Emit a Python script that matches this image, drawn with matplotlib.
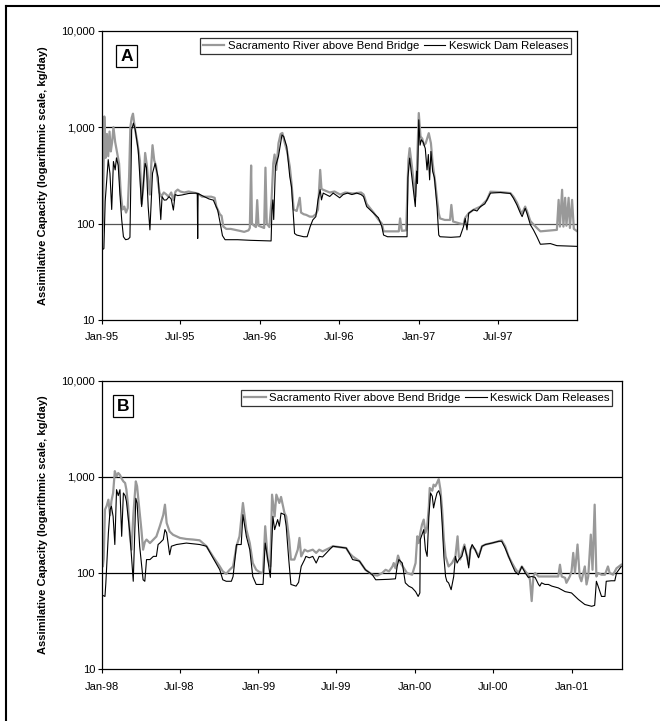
import matplotlib
matplotlib.use('Agg')
import matplotlib.pyplot as plt
import matplotlib.dates as mdates
from matplotlib.lines import Line2D
import pandas as pd

plt.rcParams['font.family'] = ['Liberation Sans', 'DejaVu Sans']

# ---------------- Panel A data (1995-1997) ----------------
a_sac_dates = ['1995-01-01','1995-01-04','1995-01-07','1995-01-10','1995-01-13','1995-01-16','1995-01-19','1995-01-22',
    '1995-01-25','1995-01-28','1995-02-01','1995-02-05','1995-02-10','1995-02-14','1995-02-18','1995-02-22','1995-02-26',
    '1995-03-02','1995-03-05','1995-03-08','1995-03-11','1995-03-14','1995-03-18','1995-03-24','1995-03-30','1995-04-03',
    '1995-04-07','1995-04-11','1995-04-15','1995-04-19','1995-04-22','1995-04-25','1995-04-28','1995-05-02','1995-05-06',
    '1995-05-10','1995-05-14','1995-05-18','1995-05-24','1995-05-30','1995-06-04','1995-06-10','1995-06-15','1995-06-20',
    '1995-06-25','1995-07-01','1995-07-10','1995-07-20','1995-07-30','1995-08-10','1995-08-20','1995-08-30','1995-09-10',
    '1995-09-18','1995-09-22','1995-09-30','1995-10-04','1995-10-08','1995-10-15','1995-10-25','1995-11-05','1995-11-15',
    '1995-11-25','1995-12-05','1995-12-08','1995-12-11','1995-12-13','1995-12-18','1995-12-22','1995-12-25','1995-12-28',
    '1996-01-05','1996-01-10','1996-01-13','1996-01-16','1996-01-22','1996-01-27','1996-01-31','1996-02-03','1996-02-07',
    '1996-02-12','1996-02-17','1996-02-21','1996-02-26','1996-03-03','1996-03-09','1996-03-13','1996-03-18','1996-03-25',
    '1996-04-01','1996-04-04','1996-04-10','1996-04-16','1996-04-24','1996-05-01','1996-05-08','1996-05-13','1996-05-18',
    '1996-05-21','1996-05-24','1996-06-09','1996-06-20','1996-07-03','1996-07-15','1996-08-01','1996-08-20','1996-08-26',
    '1996-09-02','1996-09-18','1996-09-29','1996-10-07','1996-10-11','1996-11-15','1996-11-18','1996-11-22','1996-12-02',
    '1996-12-04','1996-12-07','1996-12-10','1996-12-15','1996-12-23','1996-12-27','1996-12-31','1997-01-04','1997-01-08',
    '1997-01-12','1997-01-16','1997-01-23','1997-01-28','1997-02-01','1997-02-07','1997-02-11','1997-02-15','1997-02-18',
    '1997-03-01','1997-03-13','1997-03-16','1997-03-20','1997-04-05','1997-04-13','1997-04-17','1997-04-25','1997-05-06',
    '1997-05-22','1997-06-06','1997-06-14','1997-07-07','1997-07-30','1997-08-06','1997-08-14','1997-08-22','1997-08-26',
    '1997-09-02','1997-09-06','1997-09-14','1997-09-21','1997-09-29','1997-10-07','1997-11-14','1997-11-18','1997-11-21',
    '1997-11-26','1997-11-29','1997-12-03','1997-12-06','1997-12-11','1997-12-14','1997-12-19','1997-12-23','1997-12-31']
a_sac_vals = [73,110,1290,480,850,500,900,560,
    700,1000,700,560,420,200,140,150,130,
    145,300,1000,1250,1380,1000,700,450,160,
    250,540,400,250,200,400,650,450,400,
    280,210,190,210,200,190,210,175,215,
    225,215,210,215,210,205,190,190,190,
    185,150,125,120,93,88,88,86,84,
    82,85,90,400,100,95,92,175,95,
    92,90,380,100,92,175,420,520,360,
    680,850,870,700,560,390,262,140,135,
    185,130,125,123,118,118,125,140,360,
    230,225,210,215,200,210,205,210,200,
    160,130,110,100,83,83,113,84,85,
    163,450,605,400,190,400,1400,800,760,
    650,680,866,680,420,262,180,128,113,
    109,109,156,105,100,98,115,128,139,
    150,176,214,212,207,190,165,135,128,
    150,135,106,98,90,83,86,176,93,
    224,93,185,95,185,90,176,88,83]

a_kes_dates = ['1995-01-01','1995-01-06','1995-01-09','1995-01-13','1995-01-16','1995-01-20','1995-01-24','1995-01-28',
    '1995-02-01','1995-02-04','1995-02-08','1995-02-12','1995-02-16','1995-02-20','1995-02-25','1995-03-03','1995-03-07',
    '1995-03-11','1995-03-15','1995-03-19','1995-03-26','1995-04-03','1995-04-08','1995-04-11','1995-04-14','1995-04-18',
    '1995-04-22','1995-04-28','1995-05-04','1995-05-11','1995-05-17','1995-05-20','1995-05-25','1995-05-30','1995-06-05',
    '1995-06-10','1995-06-15','1995-06-19','1995-06-25','1995-07-05','1995-07-20','1995-08-05','1995-08-09','1995-08-10',
    '1995-08-11','1995-08-20','1995-09-05','1995-09-15','1995-09-18','1995-09-25','1995-10-01','1995-10-06','1995-10-12',
    '1995-11-10','1995-12-10','1996-01-26','1996-01-28','1996-01-30','1996-02-01','1996-02-05','1996-02-12','1996-02-20',
    '1996-02-24','1996-03-02','1996-03-09','1996-03-13','1996-03-20','1996-03-25','1996-04-10','1996-04-18','1996-04-25',
    '1996-05-01','1996-05-08','1996-05-13','1996-05-18','1996-05-21','1996-05-25','1996-06-09','1996-06-17','1996-07-02',
    '1996-07-10','1996-07-20','1996-07-30','1996-08-10','1996-08-20','1996-08-26','1996-09-02','1996-09-18','1996-09-29',
    '1996-10-07','1996-10-11','1996-10-20','1996-11-20','1996-12-04','1996-12-06','1996-12-10','1996-12-15','1996-12-20',
    '1996-12-23','1996-12-26','1996-12-28','1996-12-31','1997-01-03','1997-01-06','1997-01-10','1997-01-15','1997-01-19',
    '1997-01-22','1997-01-25','1997-01-28','1997-02-01','1997-02-05','1997-02-11','1997-02-15','1997-02-18','1997-03-15',
    '1997-04-05','1997-04-13','1997-04-17','1997-04-21','1997-04-25','1997-05-06','1997-05-14','1997-05-22','1997-06-01',
    '1997-06-06','1997-06-14','1997-07-07','1997-07-30','1997-08-06','1997-08-14','1997-08-22','1997-08-26','1997-09-02',
    '1997-09-06','1997-09-14','1997-09-21','1997-09-29','1997-10-07','1997-10-30','1997-11-14','1997-12-31']
a_kes_vals = [53,55,170,300,460,330,140,440,
    360,480,400,200,110,73,68,69,72,
    940,1100,950,580,150,300,420,380,150,
    86,333,420,300,110,190,175,176,190,
    180,138,200,195,198,205,207,205,70,
    205,195,180,175,163,138,100,75,68,
    68,67,66,138,176,110,390,500,830,
    800,630,307,240,79,76,73,73,93,
    109,118,176,225,176,207,191,207,185,
    200,207,200,207,200,190,150,128,115,
    93,76,73,73,73,300,477,307,200,
    150,350,260,1190,650,740,700,600,360,
    520,284,560,347,300,150,76,73,72,
    73,93,113,86,128,139,135,150,160,
    176,207,210,205,183,156,128,118,144,
    128,97,86,73,61,62,59,58]

# ---------------- Panel B data (1998-2001) ----------------
b_sac_dates = ['1998-01-01','1998-01-03','1998-01-05','1998-01-08','1998-01-12','1998-01-16','1998-01-20','1998-01-23',
    '1998-01-27','1998-01-31','1998-02-04','1998-02-08','1998-02-12','1998-02-16','1998-02-20','1998-02-24','1998-02-27',
    '1998-03-03','1998-03-07','1998-03-11','1998-03-15','1998-03-21','1998-03-24','1998-03-27','1998-04-03','1998-04-07',
    '1998-04-11','1998-04-15','1998-04-23','1998-05-01','1998-05-08','1998-05-16','1998-05-24','1998-05-28','1998-06-01',
    '1998-06-08','1998-06-16','1998-07-02','1998-07-17','1998-08-02','1998-08-17','1998-09-02','1998-09-17','1998-10-03',
    '1998-10-10','1998-10-18','1998-10-26','1998-11-03','1998-11-11','1998-11-18','1998-11-26','1998-11-30','1998-12-04',
    '1998-12-12','1998-12-19','1998-12-27','1999-01-04','1999-01-12','1999-01-17','1999-01-23','1999-01-29','1999-02-02',
    '1999-02-08','1999-02-12','1999-02-19','1999-02-23','1999-03-03','1999-03-07','1999-03-14','1999-03-18','1999-03-26',
    '1999-04-03','1999-04-07','1999-04-11','1999-04-19','1999-04-26','1999-05-08','1999-05-16','1999-05-23','1999-05-31',
    '1999-06-16','1999-06-24','1999-07-25','1999-08-01','1999-08-09','1999-08-25','1999-09-08','1999-09-24','1999-10-06',
    '1999-10-17','1999-10-25','1999-11-02','1999-11-10','1999-11-13','1999-11-17','1999-11-23','1999-11-29','1999-12-07',
    '1999-12-14','1999-12-26','2000-01-03','2000-01-07','2000-01-10','2000-01-14','2000-01-18','2000-01-22','2000-01-26',
    '2000-01-30','2000-02-03','2000-02-05','2000-02-11','2000-02-14','2000-02-18','2000-02-22','2000-02-26','2000-03-01',
    '2000-03-05','2000-03-09','2000-03-13','2000-03-20','2000-03-28','2000-04-05','2000-04-10','2000-04-13','2000-04-16',
    '2000-04-20','2000-04-26','2000-05-02','2000-05-06','2000-05-10','2000-05-14','2000-05-21','2000-05-29','2000-06-06',
    '2000-06-14','2000-06-29','2000-07-15','2000-07-22','2000-07-30','2000-08-07','2000-08-15','2000-08-22','2000-08-30',
    '2000-09-07','2000-09-15','2000-09-22','2000-09-26','2000-09-30','2000-10-04','2000-10-08','2000-10-16','2000-10-31',
    '2000-11-16','2000-12-01','2000-12-05','2000-12-09','2000-12-17','2000-12-20','2000-12-28','2001-01-01','2001-01-05',
    '2001-01-09','2001-01-15','2001-01-20','2001-01-24','2001-02-01','2001-02-05','2001-02-09','2001-02-15','2001-02-19',
    '2001-02-24','2001-02-28','2001-03-04','2001-03-12','2001-03-20','2001-03-27','2001-03-31','2001-04-08','2001-04-16',
    '2001-04-27']
b_sac_vals = [170,117,140,457,500,580,400,560,
    681,1150,1016,1100,1050,960,900,866,738,
    500,250,175,389,900,800,580,283,175,
    210,223,205,223,240,307,402,515,332,
    270,250,232,226,223,219,190,149,117,
    104,98,108,117,190,241,536,389,283,
    205,127,108,102,100,307,138,117,655,
    389,655,536,620,421,389,223,138,138,
    175,232,149,175,168,175,162,175,168,
    182,190,182,162,149,133,108,96,94,
    100,108,104,117,127,112,152,127,112,
    100,96,127,241,205,262,319,360,262,
    300,495,768,720,832,800,866,953,740,
    457,223,149,117,127,149,241,149,138,
    162,198,149,122,175,190,175,149,190,
    198,205,214,219,190,149,127,112,100,
    117,104,96,85,51,92,100,92,92,
    92,92,122,92,89,79,92,104,162,
    100,198,92,82,117,76,92,251,108,
    515,92,100,96,96,117,100,96,112,
    122]

b_kes_dates = ['1998-01-01','1998-01-08','1998-01-10','1998-01-16','1998-01-20','1998-01-23','1998-01-27','1998-01-31',
    '1998-02-04','1998-02-08','1998-02-12','1998-02-16','1998-02-20','1998-02-24','1998-02-27','1998-03-07','1998-03-15',
    '1998-03-21','1998-03-24','1998-03-30','1998-04-07','1998-04-11','1998-04-15','1998-04-23','1998-05-01','1998-05-08',
    '1998-05-12','1998-05-16','1998-05-24','1998-05-28','1998-06-01','1998-06-08','1998-06-12','1998-06-24','1998-07-17',
    '1998-08-17','1998-09-02','1998-09-17','1998-10-03','1998-10-10','1998-10-18','1998-10-30','1998-11-03','1998-11-11',
    '1998-11-22','1998-11-26','1998-12-04','1998-12-12','1998-12-19','1998-12-27','1999-01-12','1999-01-17','1999-01-23',
    '1999-01-29','1999-02-04','1999-02-08','1999-02-15','1999-02-19','1999-02-23','1999-03-03','1999-03-07','1999-03-13',
    '1999-03-18','1999-03-30','1999-04-05','1999-04-11','1999-04-19','1999-04-22','1999-04-30','1999-05-08','1999-05-16',
    '1999-05-23','1999-05-31','1999-06-16','1999-06-24','1999-07-25','1999-08-01','1999-08-09','1999-08-25','1999-09-08',
    '1999-09-24','1999-10-02','1999-11-02','1999-11-17','1999-11-21','1999-11-25','1999-12-03','1999-12-10','1999-12-18',
    '1999-12-26','2000-01-03','2000-01-09','2000-01-13','2000-01-14','2000-01-22','2000-01-26','2000-01-30','2000-02-03',
    '2000-02-07','2000-02-11','2000-02-14','2000-02-18','2000-02-22','2000-02-26','2000-03-01','2000-03-05','2000-03-09',
    '2000-03-13','2000-03-16','2000-03-20','2000-03-26','2000-04-01','2000-04-05','2000-04-09','2000-04-13','2000-04-20',
    '2000-04-26','2000-05-02','2000-05-06','2000-05-10','2000-05-14','2000-05-21','2000-05-29','2000-06-06','2000-06-14',
    '2000-06-29','2000-07-15','2000-07-22','2000-07-30','2000-08-07','2000-08-15','2000-08-22','2000-08-30','2000-09-07',
    '2000-09-15','2000-09-22','2000-09-30','2000-10-08','2000-10-16','2000-10-19','2000-10-23','2000-10-31','2000-11-08',
    '2000-11-16','2000-12-01','2000-12-17','2001-01-01','2001-01-17','2001-02-01','2001-02-17','2001-02-24','2001-02-28',
    '2001-03-04','2001-03-12','2001-03-20','2001-03-23','2001-04-04','2001-04-12','2001-04-16','2001-04-27']
b_kes_vals = [59,57,78,262,457,495,389,198,
    738,640,738,241,681,640,560,262,82,
    600,536,190,85,82,138,138,149,149,
    198,205,223,283,262,155,190,198,205,
    198,190,144,108,85,82,82,92,198,
    198,405,241,175,92,76,76,205,138,
    90,389,283,360,307,421,405,307,138,
    76,73,80,117,138,149,144,149,127,
    149,147,175,190,182,162,138,133,108,
    96,85,86,87,117,138,127,79,73,
    70,64,57,62,223,283,175,149,389,
    681,630,476,580,681,720,630,332,149,
    92,82,79,67,92,149,127,138,149,
    190,149,113,175,198,175,144,190,198,
    205,214,214,182,149,122,104,96,117,
    100,90,92,90,76,73,79,76,76,
    73,70,64,62,53,47,45,46,82,
    73,57,57,82,83,83,100,117]

# ---------------- Labels ----------------
sac_label = 'Sacramento River above Bend Bridge'
kes_label = 'Keswick Dam Releases'
y_ticks = [10, 100, 1000, 10000]
y_tick_labels = ['10', '100', '1,000', '10,000']
a_xticks = ['1995-01-01','1995-07-01','1996-01-01','1996-07-01','1997-01-01','1997-07-01']
a_xtick_labels = ['Jan-95','Jul-95','Jan-96','Jul-96','Jan-97','Jul-97']
b_xticks = ['1998-01-01','1998-07-01','1999-01-01','1999-07-01','2000-01-01','2000-07-01','2001-01-01']
b_xtick_labels = ['Jan-98','Jul-98','Jan-99','Jul-99','Jan-00','Jul-00','Jan-01']
ylabel = 'Assimilative Capacity (logarithmic scale, kg/day)'

GRAY = '#999999'

fig = plt.figure(figsize=(6.6, 7.21), dpi=100)
axA = fig.add_axes([0.1541, 0.5562, 0.7206, 0.4012])
axB = fig.add_axes([0.1545, 0.0721, 0.7874, 0.3995])


def style(ax, sd, sv, kd, kv, xticks, xlabels, xlim, panel, leg_anchor, lab_pos, hline100):
    ax.axhline(1000, color='black', lw=0.9, zorder=1)
    ax.axhline(100, color=hline100, lw=0.9, zorder=1)
    ax.plot(pd.to_datetime(sd), sv, color=GRAY, lw=1.6, zorder=2, label=sac_label)
    ax.plot(pd.to_datetime(kd), kv, color='black', lw=0.8, zorder=3, label=kes_label)
    ax.set_yscale('log')
    ax.set_ylim(10, 10000)
    ax.set_yticks(y_ticks)
    ax.set_yticklabels(y_tick_labels)
    ax.minorticks_off()
    ax.yaxis.set_minor_locator(matplotlib.ticker.NullLocator())
    ax.set_xticks(pd.to_datetime(xticks))
    ax.set_xticklabels(xlabels)
    ax.set_xlim(pd.Timestamp(xlim[0]), pd.Timestamp(xlim[1]))
    ax.tick_params(axis='both', direction='out', length=3, width=0.8, labelsize=8, colors='black')
    ax.tick_params(axis='x', pad=6)
    ax.tick_params(axis='y', pad=2)
    for s in ax.spines.values():
        s.set_linewidth(0.9)
        s.set_color('black')
    leg = ax.legend(loc='upper right', bbox_to_anchor=leg_anchor, ncol=2, fontsize=8.2,
                    frameon=True, fancybox=False, shadow=False, borderaxespad=0,
                    handlelength=1.9, handletextpad=0.3, columnspacing=0.4,
                    borderpad=0.25)
    leg.get_frame().set_edgecolor('black')
    leg.get_frame().set_linewidth(0.9)
    ax.text(lab_pos[0], lab_pos[1], panel, transform=ax.transAxes, fontsize=12.5,
            fontweight='bold', ha='center', va='center',
            bbox=dict(boxstyle='square,pad=0.22', fc='white', ec='black', lw=0.9))


style(axA, a_sac_dates, a_sac_vals, a_kes_dates, a_kes_vals, a_xticks, a_xtick_labels,
      ('1995-01-01', '1997-12-31'), 'A', (0.987, 0.975), (0.052, 0.912), '#555555')
style(axB, b_sac_dates, b_sac_vals, b_kes_dates, b_kes_vals, b_xticks, b_xtick_labels,
      ('1998-01-01', '2001-04-28'), 'B', (0.982, 0.969), (0.041, 0.913), 'black')

fig.text(43 / 660, 0.757, ylabel, rotation=90, ha='center', va='center', fontsize=8, fontweight='bold')
fig.text(43 / 660, 0.272, ylabel, rotation=90, ha='center', va='center', fontsize=8, fontweight='bold')

# outer frame (left and top edges visible)
fig.add_artist(Line2D([6 / 660, 6 / 660], [0, 1 - 6 / 721], transform=fig.transFigure, color='black', lw=1.5))
fig.add_artist(Line2D([6 / 660, 1], [1 - 6 / 721, 1 - 6 / 721], transform=fig.transFigure, color='black', lw=1.5))

fig.savefig('out.png', dpi=100)
